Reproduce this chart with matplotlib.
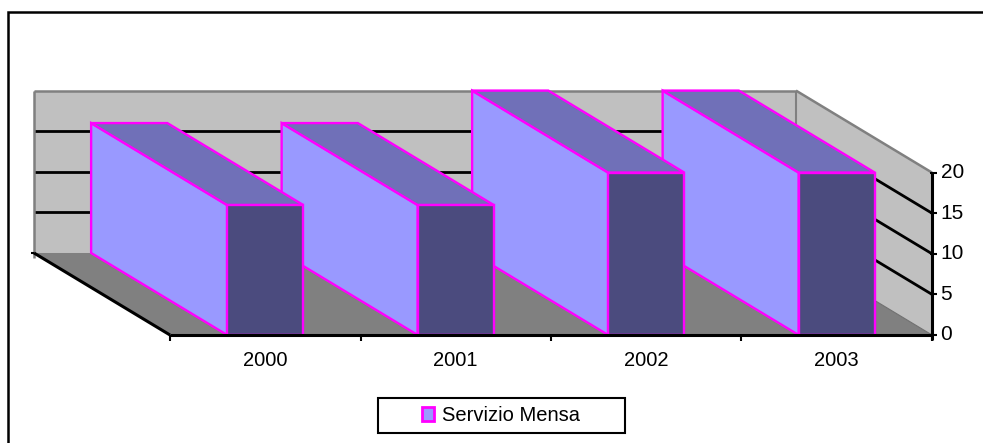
import matplotlib
matplotlib.use('Agg')
import matplotlib.pyplot as plt
from matplotlib.patches import Polygon, Patch, Rectangle

plt.rcParams['font.family'] = ['Liberation Sans', 'DejaVu Sans']

# data
years = ['2000', '2001', '2002', '2003']
values = [16, 16, 20, 20]
value_ticks = [0, 5, 10, 15, 20]
series_name = 'Servizio Mensa'

# colours (Excel style)
wall_color = '#C0C0C0'
floor_color = '#808080'
bar_side = '#9999FF'
bar_top = '#7070B8'
bar_front = '#4B4B7E'
bar_edge = '#FF00FF'

# oblique projection: depth d in [0, 1] shifts left and up
DX = 0.714
DY = 10.1
bar_width = 0.4
vmax = value_ticks[-1]
ncat = len(years)


def proj(c, v, d):
    return (c - d * DX, v + d * DY)


def face(ax, pts, fc, ec='none', lw=0, z=1):
    ax.add_patch(Polygon([proj(*p) for p in pts], closed=True, facecolor=fc,
                         edgecolor=ec, linewidth=lw, zorder=z, joinstyle='miter'))


def seg(ax, p1, p2, color, lw, z=2):
    a = proj(*p1)
    b = proj(*p2)
    ax.plot([a[0], b[0]], [a[1], b[1]], color=color, lw=lw, zorder=z,
            solid_capstyle='butt')


fig = plt.figure(figsize=(9.83, 4.43), dpi=100)
ax = fig.add_axes([0, 0, 1, 1])
ax.set_xlim(-170 / 190.5, (983 - 170) / 190.5)
ax.set_ylim((335 - 443) / 8.12, 335 / 8.12)
ax.axis('off')

# walls and floor
face(ax, [(0, 0, 1), (ncat, 0, 1), (ncat, vmax, 1), (0, vmax, 1)], wall_color)
face(ax, [(ncat, 0, 1), (ncat, 0, 0), (ncat, vmax, 0), (ncat, vmax, 1)], wall_color)
face(ax, [(0, 0, 0), (ncat, 0, 0), (ncat, 0, 1), (0, 0, 1)], floor_color)

# gridlines on back and side walls
for v in value_ticks[1:-1]:
    seg(ax, (0, v, 1), (ncat, v, 1), 'black', 2.0)
    seg(ax, (ncat, v, 1), (ncat, v, 0), 'black', 2.0)

# wall edges
seg(ax, (0, vmax, 1), (ncat, vmax, 1), '#808080', 1.8, 3)
seg(ax, (0, -0.6, 1), (0, vmax, 1), '#808080', 1.8, 3)
seg(ax, (ncat, 0, 1), (ncat, vmax, 1), '#808080', 1.5, 3)
seg(ax, (ncat, vmax, 1), (ncat, vmax, 0), '#808080', 1.8, 3)
seg(ax, (ncat, 0, 1), (ncat, 0, 0), '#707070', 0.8, 3)

# bars, drawn right to left so the nearer ones sit on top
for i in range(ncat - 1, -1, -1):
    x0 = i + 0.5 - bar_width / 2
    x1 = i + 0.5 + bar_width / 2
    v = values[i]
    z = 10 + (ncat - i)
    face(ax, [(x0, 0, 0), (x0, v, 0), (x0, v, 1), (x0, 0, 1)], bar_side, bar_edge, 1.7, z)
    face(ax, [(x0, v, 0), (x1, v, 0), (x1, v, 1), (x0, v, 1)], bar_top, bar_edge, 1.7, z)
    face(ax, [(x0, 0, 0), (x1, 0, 0), (x1, v, 0), (x0, v, 0)], bar_front, bar_edge, 1.7, z)

# floor edges (category axis and depth axis)
seg(ax, (0, 0, 0), (ncat, 0, 0), 'black', 2.2, 20)
seg(ax, (0, 0, 1), (0, 0, 0), 'black', 2.2, 20)
seg(ax, (-0.015, 0, 1), (0, 0, 1), 'black', 1.5, 20)
for i in range(ncat + 1):
    seg(ax, (i, 0, 0), (i, -0.8, 0), 'black', 1.5, 20)
for i, lab in enumerate(years):
    ax.text(i + 0.5, -3.1, lab, ha='center', va='center', fontsize=14.5, zorder=21)

# value axis on the right
seg(ax, (ncat, -0.6, 0), (ncat, vmax, 0), 'black', 2.2, 20)
for v in value_ticks:
    seg(ax, (ncat - 0.012, v, 0), (ncat + 0.028, v, 0), 'black', 1.5, 20)
    ax.text(ncat + 0.045, v, str(v), ha='left', va='center', fontsize=15, zorder=21)

# legend
handle = Patch(facecolor=bar_side, edgecolor=bar_edge, linewidth=2)
fig.legend([handle], [series_name], loc='center', bbox_to_anchor=(501 / 983, 1 - 415.5 / 443),
           frameon=False, fontsize=14.5, handlelength=0.6, handleheight=0.7,
           handletextpad=0.4, borderpad=0.2)
fig.add_artist(Rectangle((378 / 983, 1 - 433 / 443), 247 / 983, 35 / 443,
                         transform=fig.transFigure, facecolor='none', edgecolor='black', lw=1.5))

# chart area border
fig.add_artist(Rectangle((8 / 983, -0.1), 1.2, 1 - 12 / 443 + 0.1,
                         transform=fig.transFigure, facecolor='none', edgecolor='black', lw=1.8))

fig.savefig('out.png', dpi=100)
